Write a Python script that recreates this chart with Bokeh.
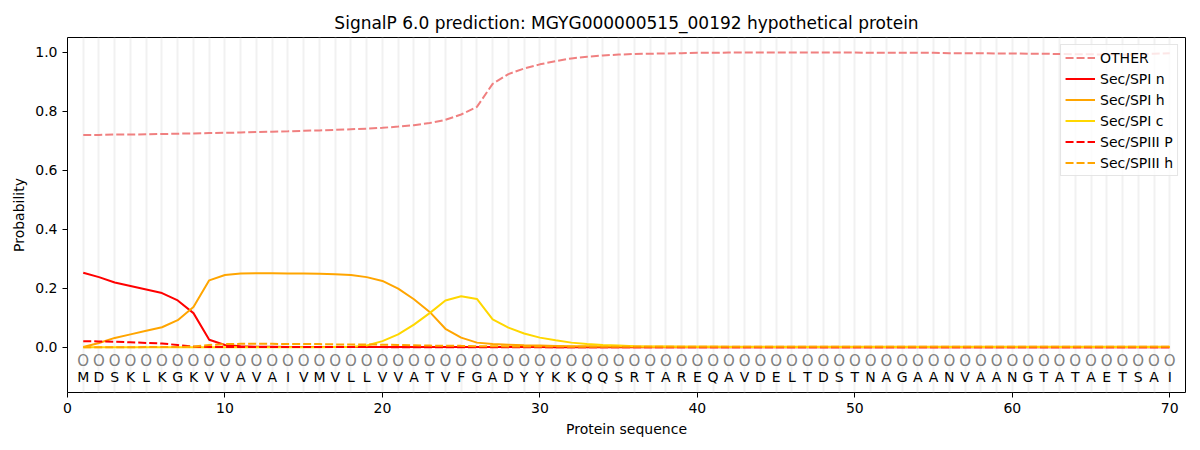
from bokeh.plotting import figure
from bokeh.models import ColumnDataSource, FixedTicker, PrintfTickFormatter, Legend, LegendItem
from bokeh.core.properties import value
from bokeh.embed import file_html
from bokeh.resources import INLINE

sequence = list("MDSKLKGKVVAVAIVMVLLVVATVFGADYYKKQQSRTAREQAVDELTDSTNAGAANVAANGTATAETSAI")
positions = list(range(1, len(sequence) + 1))
labels = ["O"] * len(sequence)

other = [0.720, 0.720, 0.721, 0.721, 0.722, 0.723, 0.724, 0.725, 0.726, 0.727,
         0.728, 0.730, 0.731, 0.732, 0.734, 0.735, 0.737, 0.739, 0.741, 0.744,
         0.748, 0.753, 0.760, 0.771, 0.789, 0.815, 0.893, 0.926, 0.945, 0.959,
         0.970, 0.979, 0.985, 0.989, 0.992, 0.994, 0.995, 0.996, 0.997, 0.998,
         0.998, 0.999, 0.999, 0.999, 0.999, 0.999, 0.999, 0.999, 0.999, 0.999,
         0.998, 0.998, 0.998, 0.998, 0.998, 0.997, 0.997, 0.997, 0.996, 0.996,
         0.995, 0.995, 0.994, 0.993, 0.993, 0.992, 0.992, 0.993, 0.995, 0.997]
spi_n = [0.253, 0.238, 0.220, 0.208, 0.196, 0.184, 0.159, 0.116, 0.026, 0.008,
         0.004, 0.002, 0.002, 0.001, 0.001, 0.001, 0.001, 0.001, 0.001, 0.001,
         0.001, 0.001, 0.001, 0.001, 0.001, 0.001, 0.001, 0.001, 0.001, 0.001,
         0.0, 0.0, 0.0, 0.0, 0.0, 0.0, 0.0, 0.0, 0.0, 0.0,
         0.0, 0.0, 0.0, 0.0, 0.0, 0.0, 0.0, 0.0, 0.0, 0.0,
         0.0, 0.0, 0.0, 0.0, 0.0, 0.0, 0.0, 0.0, 0.0, 0.0,
         0.0, 0.0, 0.0, 0.0, 0.0, 0.0, 0.0, 0.0, 0.0, 0.0]
spi_h = [0.001, 0.015, 0.032, 0.044, 0.056, 0.068, 0.092, 0.137, 0.227, 0.245,
         0.250, 0.251, 0.251, 0.250, 0.250, 0.249, 0.248, 0.245, 0.238, 0.225,
         0.199, 0.163, 0.120, 0.063, 0.033, 0.016, 0.011, 0.009, 0.007, 0.006,
         0.005, 0.004, 0.004, 0.003, 0.003, 0.003, 0.002, 0.002, 0.002, 0.002,
         0.002, 0.002, 0.002, 0.002, 0.002, 0.002, 0.002, 0.002, 0.002, 0.002,
         0.002, 0.002, 0.002, 0.002, 0.002, 0.002, 0.002, 0.002, 0.002, 0.002,
         0.002, 0.002, 0.002, 0.002, 0.002, 0.002, 0.002, 0.002, 0.002, 0.002]
spi_c = [0.0, 0.0, 0.0, 0.0, 0.0, 0.0, 0.0, 0.0, 0.0, 0.0,
         0.0, 0.0, 0.0, 0.0, 0.0, 0.0, 0.001, 0.001, 0.006, 0.021,
         0.044, 0.077, 0.116, 0.159, 0.173, 0.164, 0.095, 0.067, 0.047, 0.033,
         0.024, 0.016, 0.011, 0.008, 0.006, 0.004, 0.003, 0.003, 0.002, 0.002,
         0.002, 0.001, 0.001, 0.001, 0.001, 0.001, 0.001, 0.001, 0.001, 0.001,
         0.001, 0.001, 0.001, 0.001, 0.001, 0.001, 0.001, 0.001, 0.001, 0.001,
         0.001, 0.001, 0.001, 0.001, 0.001, 0.001, 0.001, 0.001, 0.001, 0.001]
spiii_p = [0.021, 0.020, 0.019, 0.017, 0.015, 0.013, 0.008, 0.003, 0.001, 0.001,
           0.001, 0.001, 0.001, 0.001, 0.001, 0.001, 0.001, 0.001, 0.001, 0.001,
           0.0, 0.0, 0.0, 0.0, 0.0, 0.0, 0.0, 0.0, 0.0, 0.0,
           0.0, 0.0, 0.0, 0.0, 0.0, 0.0, 0.0, 0.0, 0.0, 0.0,
           0.0, 0.0, 0.0, 0.0, 0.0, 0.0, 0.0, 0.0, 0.0, 0.0,
           0.0, 0.0, 0.0, 0.0, 0.0, 0.0, 0.0, 0.0, 0.0, 0.0,
           0.0, 0.0, 0.0, 0.0, 0.0, 0.0, 0.0, 0.0, 0.0, 0.0]
spiii_h = [0.0, 0.0, 0.0, 0.0, 0.001, 0.001, 0.001, 0.003, 0.008, 0.011,
           0.012, 0.012, 0.012, 0.011, 0.011, 0.011, 0.010, 0.010, 0.010, 0.009,
           0.008, 0.007, 0.006, 0.005, 0.005, 0.004, 0.004, 0.003, 0.003, 0.003,
           0.003, 0.002, 0.002, 0.002, 0.002, 0.002, 0.002, 0.002, 0.002, 0.002,
           0.002, 0.002, 0.002, 0.002, 0.002, 0.002, 0.002, 0.002, 0.002, 0.002,
           0.002, 0.002, 0.002, 0.002, 0.002, 0.002, 0.002, 0.002, 0.002, 0.002,
           0.002, 0.002, 0.002, 0.002, 0.002, 0.002, 0.002, 0.002, 0.002, 0.002]

x_ticks = [0, 10, 20, 30, 40, 50, 60, 70]
y_ticks = [0.0, 0.2, 0.4, 0.6, 0.8, 1.0]

FONT = "DejaVu Sans"

p = figure(width=1200, height=450, output_backend="svg", toolbar_location=None,
           x_range=(0, 71), y_range=(-0.153, 1.05),
           title="SignalP 6.0 prediction: MGYG000000515_00192 hypothetical protein",
           min_border_left=67, min_border_right=15, min_border_top=37, min_border_bottom=58)

p.title.align = "center"
p.title.text_font = FONT
p.title.text_font_size = "17px"
p.title.text_font_style = "normal"
p.title.text_color = "black"

p.outline_line_color = "black"
p.outline_line_width = 1
p.outline_line_alpha = 1

for ax in (p.xaxis[0], p.yaxis[0]):
    ax.axis_label_text_font = FONT
    ax.axis_label_text_font_size = "14px"
    ax.axis_label_text_font_style = "normal"
    ax.axis_label_text_color = "black"
    ax.major_label_text_font = FONT
    ax.major_label_text_font_size = "14px"
    ax.major_label_text_color = "black"
    ax.major_tick_out = 5
    ax.major_tick_in = 0
    ax.major_tick_line_color = "black"
    ax.minor_tick_out = 0
    ax.minor_tick_in = 0
    ax.axis_line_color = None

p.xaxis.axis_label = "Protein sequence"
p.yaxis.axis_label = "Probability"
p.xaxis.ticker = FixedTicker(ticks=x_ticks)
p.yaxis.ticker = FixedTicker(ticks=y_ticks)
p.yaxis.formatter = PrintfTickFormatter(format="%.1f")

p.xgrid.ticker = FixedTicker(ticks=positions)
p.xgrid.grid_line_color = "#e8e8e8"
p.xgrid.grid_line_alpha = 0.6
p.xgrid.grid_line_width = 2
p.ygrid.grid_line_color = None

src = ColumnDataSource(dict(x=positions, other=other, n=spi_n, h=spi_h, c=spi_c,
                            p3=spiii_p, h3=spiii_h, aa=sequence, lab=labels,
                            ylab=[-0.045] * len(positions), yaa=[-0.1] * len(positions)))

r_other = p.line("x", "other", source=src, line_color="lightcoral", line_width=2, line_dash="8 3")
r_n = p.line("x", "n", source=src, line_color="red", line_width=2)
r_h = p.line("x", "h", source=src, line_color="orange", line_width=2)
r_c = p.line("x", "c", source=src, line_color="gold", line_width=2)
r_p3 = p.line("x", "p3", source=src, line_color="red", line_width=2, line_dash="8 3")
r_h3 = p.line("x", "h3", source=src, line_color="orange", line_width=2, line_dash="8 3")

p.text("x", "ylab", text="lab", source=src, text_color="gray", text_font=value(FONT),
       text_font_size="15px", text_align="center", text_baseline="middle")
p.text("x", "yaa", text="aa", source=src, text_color="black", text_font=value(FONT),
       text_font_size="14px", text_align="center", text_baseline="middle")

legend = Legend(items=[
    LegendItem(label="OTHER", renderers=[r_other]),
    LegendItem(label="Sec/SPI n", renderers=[r_n]),
    LegendItem(label="Sec/SPI h", renderers=[r_h]),
    LegendItem(label="Sec/SPI c", renderers=[r_c]),
    LegendItem(label="Sec/SPIII P", renderers=[r_p3]),
    LegendItem(label="Sec/SPIII h", renderers=[r_h3]),
], location="top_right")
legend.label_text_font = FONT
legend.label_text_font_size = "14px"
legend.label_text_color = "black"
legend.glyph_width = 30
legend.glyph_height = 17
legend.label_height = 17
legend.spacing = 4
legend.padding = 4
legend.margin = 7
legend.border_line_color = "#cccccc"
legend.background_fill_alpha = 0.8
p.add_layout(legend)

open("out.html", "w").write(file_html(p, INLINE))
